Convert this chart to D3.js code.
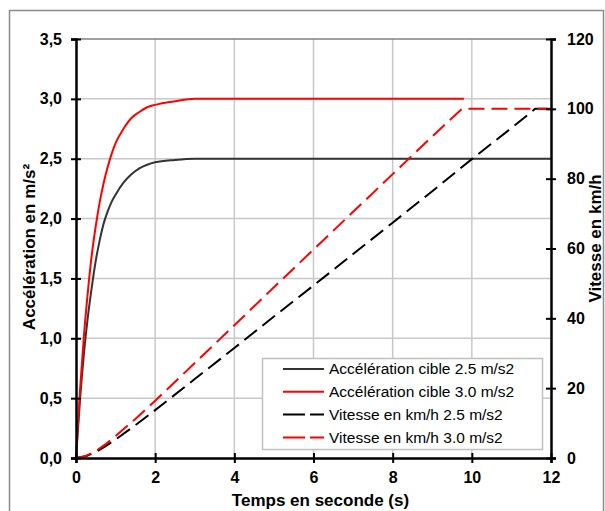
<!DOCTYPE html>
<html><head><meta charset="utf-8">
<script src="https://cdn.jsdelivr.net/npm/d3@7"></script>
<style>
html,body{margin:0;padding:0;background:#fff;}
svg{display:block;font-family:"Liberation Sans",Arial,sans-serif;}
</style></head>
<body>
<svg id="c" width="605" height="511"></svg>
<script>
// ---- data ----
const tAccBlack = [0,0.1,0.2,0.3,0.4,0.5,0.6,0.7,0.8,0.9,1.0,1.2,1.4,1.6,1.8,2.0,2.5,3.0,4,6,8,10,12];
const accBlack  = [0,0.48,0.87,1.18,1.43,1.65,1.82,1.96,2.06,2.14,2.20,2.30,2.37,2.42,2.45,2.47,2.49,2.50,2.50,2.50,2.50,2.50,2.50];
const tAccRed   = [0,0.1,0.2,0.3,0.4,0.5,0.6,0.7,0.8,0.9,1.0,1.2,1.4,1.6,1.8,2.0,2.5,3.0,4,6,8,9.8];
const accRed    = [0,0.56,1.02,1.39,1.70,1.94,2.14,2.30,2.43,2.54,2.63,2.75,2.84,2.89,2.93,2.95,2.98,3.00,3.00,3.00,3.00,3.00];
const tVitBlack = [0,0.25,0.5,0.75,1,1.5,2,3,4,5,6,7,8,9,10,11,11.6,12];
const vitBlack  = [0,0.5,1.7,3.4,5.3,9.4,13.7,22.6,31.5,40.5,49.4,58.4,67.4,76.4,85.6,94.5,100,100];
const tVitRed   = [0,0.25,0.5,0.75,1,1.5,2,3,4,5,6,7,8,9,9.75,12];
const vitRed    = [0,0.6,2.0,4.0,6.3,11.2,16.4,27.2,38.0,48.9,59.7,70.5,81.3,92.1,100,100];
const xTicks = [0,2,4,6,8,10,12];
const yLeftTicks = [0,0.5,1.0,1.5,2.0,2.5,3.0,3.5];
const yRightTicks = [0,20,40,60,80,100,120];
const seriesNames = ["Accélération cible 2.5 m/s2","Accélération cible 3.0 m/s2","Vitesse en km/h 2.5 m/s2","Vitesse en km/h 3.0 m/s2"];
const xTitle = "Temps en seconde (s)";
const yLeftTitle = "Accélération en m/s²";
const yRightTitle = "Vitesse en km/h";

// ---- drawing ----
const svg = d3.select("#c");
const L=76, R=551, T=39, B=458;
const x = d3.scaleLinear().domain([0,12]).range([L,R]);
const yL = d3.scaleLinear().domain([0,3.5]).range([B,T]);
const yR = d3.scaleLinear().domain([0,120]).range([B,T]);
const loc = d3.formatLocale({decimal:",",thousands:" ",grouping:[3],currency:["","€"]});
const fmt1 = loc.format(".1f");

// outer frame
svg.append("rect").attr("x",9.5).attr("y",10.5).attr("width",594).attr("height",540)
  .attr("fill","none").attr("stroke","#8c8c8c").attr("stroke-width",1.5);

// gridlines
const grid = svg.append("g");
grid.selectAll(".vg").data(xTicks.filter(d=>d>0&&d<12)).join("line")
  .attr("x1",d=>x(d)).attr("x2",d=>x(d)).attr("y1",T).attr("y2",B)
  .attr("stroke","#c8c8c8").attr("stroke-width",1.5);
grid.selectAll(".hg").data(yLeftTicks.filter(d=>d>0&&d<3.5)).join("line")
  .attr("x1",L).attr("x2",R).attr("y1",d=>yL(d)).attr("y2",d=>yL(d))
  .attr("stroke","#c8c8c8").attr("stroke-width",1.5);
grid.append("line").attr("x1",L).attr("x2",R).attr("y1",T).attr("y2",T)
  .attr("stroke","#808080").attr("stroke-width",1.5);

// lines
const lineL = d3.line().x(d=>x(d[0])).y(d=>yL(d[1])).curve(d3.curveMonotoneX);
const lineR = d3.line().x(d=>x(d[0])).y(d=>yR(d[1])).curve(d3.curveLinear);
const zip = (a,b)=>a.map((v,i)=>[v,b[i]]);
svg.append("path").attr("d",lineL(zip(tAccBlack,accBlack))).attr("fill","none").attr("stroke","#333").attr("stroke-width",2);
svg.append("path").attr("d",lineL(zip(tAccRed,accRed))).attr("fill","none").attr("stroke","#ff0000").attr("stroke-width",2);
svg.append("path").attr("d",lineR(zip(tVitBlack,vitBlack))).attr("fill","none").attr("stroke","#000").attr("stroke-width",2).attr("stroke-dasharray","16,7");
svg.append("path").attr("d",lineR(zip(tVitRed,vitRed))).attr("fill","none").attr("stroke","#ff0000").attr("stroke-width",2).attr("stroke-dasharray","16,7");

// axes
function styleAxis(g, horiz){
  g.select(".domain").attr("stroke","#000").attr("stroke-width",2.5);
  g.selectAll(".tick line").attr("stroke","#000").attr("stroke-width",2);
  if(horiz) g.selectAll(".tick line").attr("y1",-5).attr("y2",5);
  else g.selectAll(".tick line").attr("x1",-5).attr("x2",5);
  g.selectAll("text").attr("fill","#000").attr("font-size",16).attr("font-weight","bold")
   .attr("font-family","Liberation Sans, Arial, sans-serif");
}
const gx = svg.append("g").attr("transform",`translate(0,${B})`)
  .call(d3.axisBottom(x).tickValues(xTicks).tickFormat(d3.format("d")).tickSizeOuter(0).tickSize(5).tickPadding(9));
styleAxis(gx,true);
const gl = svg.append("g").attr("transform",`translate(${L},0)`)
  .call(d3.axisLeft(yL).tickValues(yLeftTicks).tickFormat(fmt1).tickSizeOuter(0).tickSize(5).tickPadding(9));
styleAxis(gl,false);
const gr = svg.append("g").attr("transform",`translate(${R},0)`)
  .call(d3.axisRight(yR).tickValues(yRightTicks).tickFormat(d3.format("d")).tickSizeOuter(0).tickSize(5).tickPadding(11));
styleAxis(gr,false);

// titles
svg.append("text").attr("x",(L+R)/2+7).attr("y",506).attr("text-anchor","middle")
  .attr("font-size",17).attr("font-weight","bold").text(xTitle);
svg.append("text").attr("transform",`translate(35,247) rotate(-90)`).attr("text-anchor","middle")
  .attr("font-size",17).attr("font-weight","bold").text(yLeftTitle);
svg.append("text").attr("transform",`translate(601,238.5) rotate(-90)`).attr("text-anchor","middle")
  .attr("font-size",17).attr("font-weight","bold").text(yRightTitle);

// legend
const lg = svg.append("g");
lg.append("rect").attr("x",262.5).attr("y",358.5).attr("width",280).attr("height",91)
  .attr("fill","#fff").attr("stroke","#c0c0c0").attr("stroke-width",1.5);
const colors = ["#333","#ff0000","#000","#ff0000"];
const dashes = [null,null,"22,5","22,5"];
seriesNames.forEach((n,i)=>{
  const yy = 369 + i*22.8;
  lg.append("line").attr("x1",283).attr("x2",324).attr("y1",yy).attr("y2",yy)
    .attr("stroke",colors[i]).attr("stroke-width",2).attr("stroke-dasharray",dashes[i]);
  lg.append("text").attr("x",329).attr("y",yy).attr("dy","0.35em")
    .attr("font-size",15.5).attr("fill","#000").text(n);
});
</script>
</body></html>
